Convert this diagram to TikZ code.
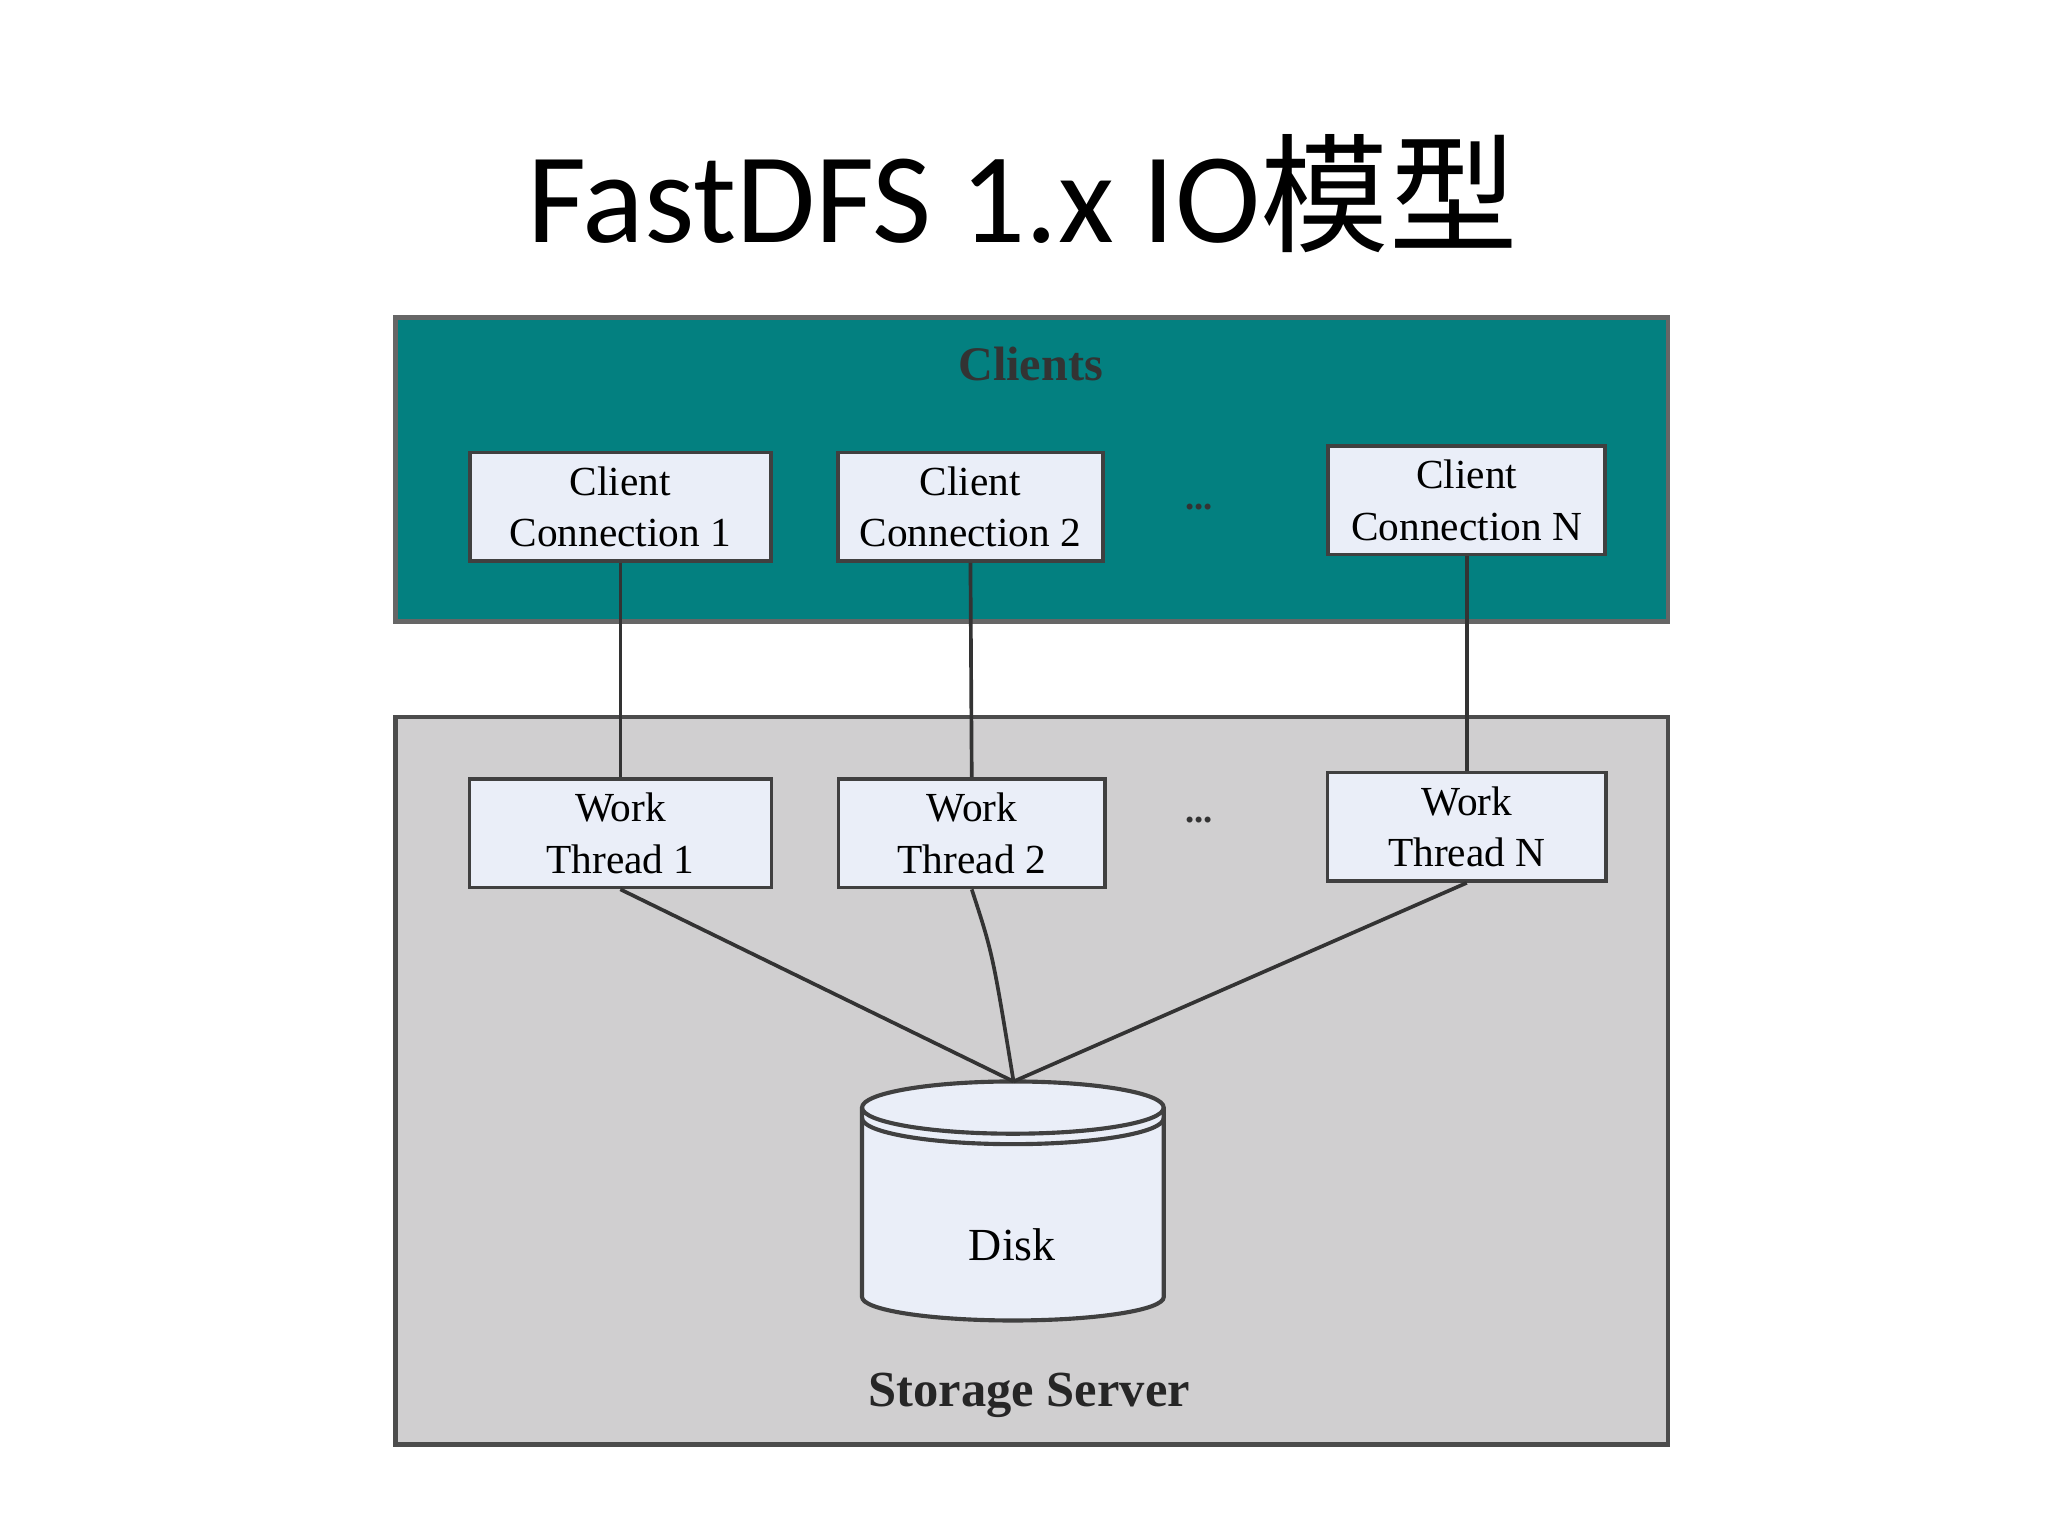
\documentclass[tikz,border=0pt]{standalone}
\usepackage{fontspec}
\setmainfont{Liberation Serif}
\newfontfamily\titlefont{Carlito}
\newfontfamily\cjk{Noto Sans CJK SC}
\begin{document}
\begin{tikzpicture}[x=0.01cm,y=-0.01cm,
  box/.style={draw=black!75,line width=0.8pt,fill={rgb,255:red,234;green,238;blue,248},align=center,font=\fontsize{9}{11.2}\selectfont,inner sep=0pt},
  conn/.style={draw=black!80,line width=0.8pt}]
\useasboundingbox (0,0) rectangle (1568,1176);
\node[font=\titlefont\fontsize{28}{32}\selectfont] (title) at (783,148) {FastDFS 1.x IO{\cjk 模型}};
\path[draw=black!60,fill={rgb,255:red,3;green,128;blue,128},line width=1pt] (303,243) rectangle (1277,476);
\path[draw=black!70,fill={rgb,255:red,208;green,207;blue,208},line width=1pt] (303,549) rectangle (1277,1106);
\node[font=\bfseries\fontsize{10.5}{12}\selectfont,text=black!80] (cl) at (789,279) {Clients};
\node[font=\bfseries\fontsize{11}{12}\selectfont,text=black!85] (ss) at (788,1068) {Storage Server};
\node[box,minimum width=2.30cm,minimum height=0.83cm] (c1) at (475,388) {Client\\Connection 1};
\node[box,minimum width=2.03cm,minimum height=0.83cm] (c2) at (743,388) {Client\\Connection 2};
\node[box,minimum width=2.12cm,minimum height=0.83cm] (cn) at (1123,383) {Client\\Connection N};
\node[box,minimum width=2.31cm,minimum height=0.83cm] (w1) at (475,638) {Work\\Thread 1};
\node[box,minimum width=2.04cm,minimum height=0.83cm] (w2) at (744,638) {Work\\Thread 2};
\node[box,minimum width=2.13cm,minimum height=0.83cm] (wn) at (1123,633) {Work\\Thread N};
\node[font=\bfseries\fontsize{8}{10}\selectfont,text=black!80] (d1) at (918,388) {...};
\node[font=\bfseries\fontsize{8}{10}\selectfont,text=black!80] (d2) at (918,628) {...};
\draw[conn] (c1.south) -- (w1.north);
\draw[conn] (c2.south) -- (w2.north);
\draw[conn] (cn.south) -- (wn.north);
% disk
\path[draw=black!75,line width=0.9pt,fill={rgb,255:red,234;green,238;blue,248}]
  (660,848) -- (660,993) arc[start angle=180,end angle=0,x radius=115.5,y radius=18] -- (891,848)
  arc[start angle=0,end angle=-180,x radius=115.5,y radius=20] -- cycle;
\draw[black!75,line width=0.9pt] (660,848) arc[start angle=180,end angle=0,x radius=115.5,y radius=20];
\draw[black!75,line width=0.9pt] (660,856) arc[start angle=180,end angle=0,x radius=115.5,y radius=20];
\coordinate (dtop) at (776,828);
\node[font=\fontsize{10}{12}\selectfont] (disk) at (775,953) {Disk};
\draw[conn] (w1.south) -- (dtop);
\draw[conn] (w2.south) .. controls (760,730) .. (dtop);
\draw[conn] (wn.south) -- (dtop);
\end{tikzpicture}
\end{document}
